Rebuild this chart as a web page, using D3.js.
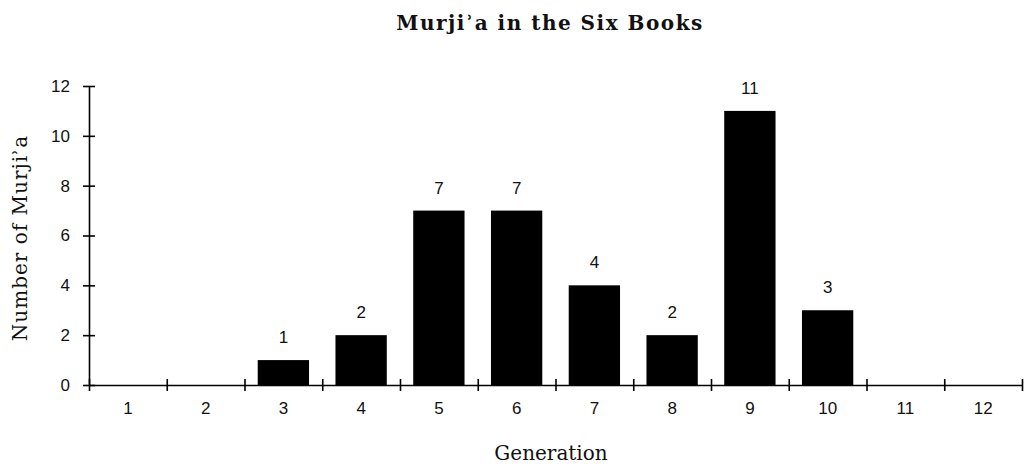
<!DOCTYPE html>
<html><head><meta charset="utf-8">
<script src="https://cdn.jsdelivr.net/npm/d3@7"></script>
<style>body{margin:0;background:#fff}</style>
</head><body>
<svg id="c" width="1035" height="469"></svg>
<script>
const generations = ["1","2","3","4","5","6","7","8","9","10","11","12"];
const counts = [0,0,1,2,7,7,4,2,11,3,0,0];
const yTicks = [0,2,4,6,8,10,12];
const titleText = "Murjiʾa in the Six Books";
const yLabel = "Number of Murjiʾa";
const xLabel = "Generation";

const svg = d3.select("#c");
const mLeft = 89, mRight = 1022, mTop = 86, mBottom = 385;
const x = d3.scaleBand().domain(generations).range([mLeft, mRight]).paddingInner(0.34).paddingOuter(0.17);
const xEdge = d3.scaleLinear().domain([0, generations.length]).range([mLeft, mRight]);
const y = d3.scaleLinear().domain([0, 12]).range([mBottom, mTop]);
const data = generations.map((g,i)=>({g, v:counts[i]})).filter(d=>d.v>0);
const sans = "Liberation Sans, Arial, sans-serif";
const serif = "DejaVu Serif, serif";

// bars
svg.selectAll("rect.bar").data(data)
  .join("rect").attr("class","bar")
  .attr("x", d=>x(d.g)).attr("width", x.bandwidth())
  .attr("y", d=>y(d.v)).attr("height", d=>y(0)-y(d.v))
  .attr("fill","#000");

// value labels
svg.selectAll("text.val").data(data)
  .join("text").attr("class","val")
  .attr("x", d=>x(d.g)+x.bandwidth()/2).attr("y", d=>y(d.v)-17)
  .attr("text-anchor","middle").attr("font-family",sans)
  .attr("font-size",17).attr("fill","#111").text(d=>d.v);

// y axis
const ya = svg.append("g").attr("transform",`translate(${mLeft},0)`)
  .call(d3.axisLeft(y).tickValues(yTicks).tickSize(6).tickSizeOuter(0));
ya.select(".domain").attr("stroke","#000").attr("stroke-width",1.6);
ya.selectAll(".tick line").attr("x1",-6).attr("x2",6).attr("stroke","#000").attr("stroke-width",1.6);
ya.selectAll(".tick text").attr("font-family",sans).attr("font-size",17).attr("fill","#111").attr("x",-19);

// x axis (ticks at band edges)
const xa = svg.append("g").attr("transform",`translate(0,${mBottom})`)
  .call(d3.axisBottom(xEdge).tickValues(d3.range(0, generations.length+1)).tickSize(6).tickFormat("").tickSizeOuter(0));
xa.select(".domain").attr("stroke","#000").attr("stroke-width",1.6);
xa.selectAll(".tick line").attr("y1",-6).attr("y2",6).attr("stroke","#000").attr("stroke-width",1.6);
const xl = svg.append("g").attr("transform",`translate(0,${mBottom})`)
  .call(d3.axisBottom(x).tickSize(0).tickPadding(17));
xl.select(".domain").remove();
xl.selectAll(".tick text").attr("font-family",sans).attr("font-size",17).attr("fill","#111");

// title
svg.append("text").attr("x",550).attr("y",30).attr("text-anchor","middle")
  .attr("font-family",serif).attr("font-weight","bold").attr("font-size",20)
  .attr("letter-spacing",1.5).attr("fill","#111").text(titleText);

// axis titles
svg.append("text").attr("transform","translate(27,238) rotate(-90)").attr("text-anchor","middle")
  .attr("font-family",serif).attr("font-size",20)
  .attr("letter-spacing",1).attr("fill","#111").text(yLabel);
svg.append("text").attr("x",551).attr("y",460).attr("text-anchor","middle")
  .attr("font-family",serif).attr("font-size",20)
  .attr("fill","#111").text(xLabel);
</script>
</body></html>
